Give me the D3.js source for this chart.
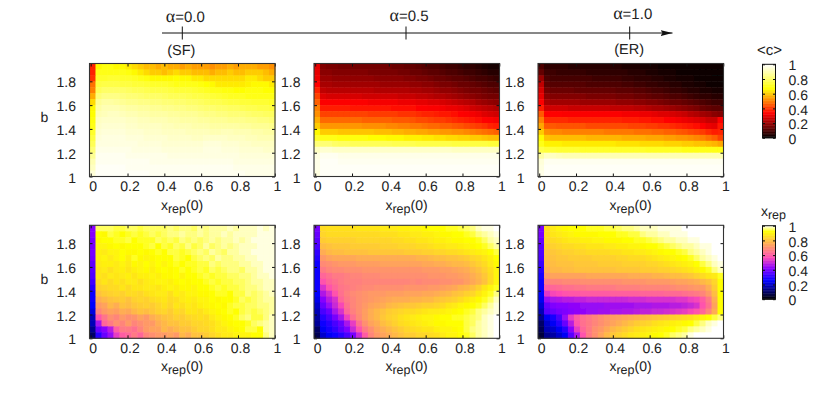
<!DOCTYPE html>
<html>
<head>
<meta charset="utf-8">
<style>
  body { margin: 0; background: #fff; }
  text { font-family: "Liberation Sans", Helvetica, Arial, sans-serif; fill: #222; text-rendering: geometricPrecision; }
</style>
<script src="https://cdnjs.cloudflare.com/ajax/libs/d3/7.8.5/d3.min.js"></script>
</head>
<body>
<svg width="814" height="417"></svg>
<script>
var xTicks = [0, 0.2, 0.4, 0.6, 0.8, 1];
var bTicks = [1, 1.2, 1.4, 1.6, 1.8];
var barTicks = [0, 0.2, 0.4, 0.6, 0.8, 1];
var alphaLabels = ["0.0", "0.5", "1.0"];
var alphaValues = [0, 0.5, 1];
var alphaNotes = ["(SF)", "", "(ER)"];

// values in hundredths, rows run from b=1.95 (top) down to b=1, columns from x=0 to x=1
var cAlpha0 = [
[38,66,68,68,66,66,64,62,60,58,58,56,58,56,56,54,56,54,54,54,52,54,54,56,54,56,56,56,54,54,52],
[38,70,70,70,70,70,68,66,64,62,60,60,58,60,62,60,60,58,58,58,56,58,58,60,58,58,60,60,60,58,56],
[40,72,72,73,73,72,72,71,70,68,66,66,66,66,67,66,66,64,64,62,62,62,62,62,62,62,64,64,62,60,60],
[48,75,76,76,76,75,75,74,74,73,72,72,72,71,70,70,70,69,68,67,66,64,64,64,64,64,65,66,66,66,64],
[50,78,80,80,80,80,79,78,78,77,76,76,76,75,74,74,74,73,72,71,70,69,68,68,67,67,68,68,68,67,67],
[56,82,84,84,84,83,82,82,81,80,80,80,79,78,78,78,77,76,76,75,74,73,72,71,71,71,70,70,70,70,70],
[62,86,88,88,87,86,85,85,84,84,83,83,82,82,81,81,80,80,79,78,77,77,76,75,75,74,74,73,73,73,72],
[66,88,90,90,90,89,88,88,87,87,86,86,85,85,84,84,83,83,82,81,81,80,80,79,79,78,77,77,76,76,75],
[67,90,91,92,92,91,90,90,89,89,88,88,88,87,87,86,86,86,85,84,84,83,83,82,82,82,81,80,80,79,79],
[68,92,93,93,93,93,92,92,91,91,90,90,90,89,89,88,88,88,87,87,86,86,86,85,85,85,84,84,83,83,82],
[69,93,94,94,94,94,93,93,92,92,92,92,91,91,90,90,90,89,89,89,88,88,88,88,88,87,87,86,86,86,85],
[72,94,95,95,95,95,94,94,94,93,93,93,92,92,92,92,91,91,91,91,90,90,91,91,90,90,90,89,89,88,88],
[75,95,96,96,96,96,95,95,95,94,94,94,94,93,93,93,93,92,92,93,93,93,93,92,92,92,91,91,90,90,90],
[78,96,96,96,96,96,96,96,95,95,95,95,94,94,94,94,94,94,94,95,95,95,94,94,94,93,93,92,92,92,92],
[82,97,97,97,97,97,97,96,96,96,96,96,95,95,95,95,95,95,95,96,96,96,95,95,95,94,94,94,94,93,93],
[86,98,98,98,98,98,97,97,97,97,97,97,97,96,96,96,96,96,96,96,96,96,96,96,96,95,95,95,95,95,95],
[90,98,98,98,98,98,98,98,98,98,97,97,97,97,97,97,97,97,97,97,97,97,97,97,96,96,96,96,96,96,96],
[92,99,99,99,99,99,98,98,98,98,98,98,98,98,98,98,98,98,98,98,98,98,98,98,97,97,97,97,97,97,97],
[95,99,99,99,99,99,99,99,99,99,98,98,98,98,98,98,98,98,98,98,98,98,98,98,98,98,97,97,97,97,97]
];
var cAlpha5 = [
[30,17,16,16,15,15,15,15,15,15,15,15,15,14,14,13,13,12,11,10,10,9,8,8,7,6,6,5,4,3,3],
[30,18,18,17,17,17,17,17,17,16,16,16,16,16,15,15,14,14,13,12,12,11,10,10,9,8,8,7,6,5,5],
[31,20,20,19,19,19,19,19,19,19,18,18,18,18,18,17,17,16,16,15,14,14,13,12,12,11,10,9,9,8,7],
[34,22,22,21,21,21,21,21,21,21,21,20,20,20,20,20,19,19,18,18,17,16,16,15,14,14,13,12,11,10,10],
[38,25,24,24,24,24,24,24,24,24,23,23,23,23,23,23,22,22,21,21,20,19,19,18,17,16,15,15,14,13,12],
[42,29,28,28,28,28,28,28,27,27,27,27,27,27,26,26,26,25,25,24,23,23,22,21,20,19,18,17,16,15,15],
[46,33,33,33,33,33,33,33,33,32,32,32,32,32,31,31,31,30,30,29,29,28,27,26,25,24,23,21,20,19,18],
[50,37,37,37,37,37,36,36,36,36,36,36,36,35,35,35,35,34,34,33,33,32,31,31,30,29,27,26,25,24,23],
[52,42,42,42,42,42,42,42,42,41,41,41,41,41,40,40,40,39,38,38,37,36,36,35,34,33,32,31,29,28,27],
[56,47,47,47,47,47,47,47,46,46,46,46,46,45,45,45,44,43,43,42,41,41,40,39,38,37,36,35,34,33,32],
[60,53,53,53,53,53,53,53,52,52,52,52,51,51,50,50,49,49,48,47,47,46,46,45,44,43,42,41,40,38,37],
[66,60,60,60,59,59,59,59,59,59,58,58,58,57,57,56,56,55,55,54,54,53,53,52,52,51,50,49,48,47,46],
[72,70,70,69,68,68,68,68,68,67,67,67,66,66,66,65,65,65,64,64,63,63,62,62,61,61,60,60,59,58,58],
[82,82,82,80,79,79,78,78,78,78,78,78,78,77,77,77,77,76,76,76,76,76,76,75,75,75,75,75,75,74,74],
[92,94,94,93,93,93,93,93,93,93,93,93,93,93,93,93,93,93,93,93,93,93,93,92,92,92,92,92,92,92,92],
[96,98,98,98,97,97,97,97,97,97,97,97,97,97,97,97,97,97,97,97,97,97,97,97,97,97,97,97,97,97,97],
[97,99,99,99,98,98,98,98,98,98,98,98,98,98,98,98,98,98,98,98,98,98,98,98,98,98,98,98,98,98,98],
[97,99,99,99,99,99,99,99,99,99,99,99,99,99,99,99,99,99,99,99,99,99,99,99,99,99,99,99,99,99,99],
[96,99,99,99,99,99,99,99,99,99,99,99,99,99,99,99,99,99,99,99,99,99,99,99,99,99,99,99,99,99,99]
];
var cAlpha10 = [
[10,6,6,6,6,5,5,5,5,5,5,5,5,5,4,4,4,3,3,3,2,2,2,2,1,1,1,1,1,1,1],
[13,8,8,7,7,7,7,7,6,6,6,6,6,6,6,5,5,5,4,4,3,3,3,2,2,2,1,1,1,1,1],
[20,10,9,9,9,9,9,9,9,8,8,8,8,8,7,7,6,6,6,5,5,4,4,3,3,3,2,2,2,1,1],
[25,12,11,11,11,11,11,11,10,10,10,10,10,10,9,9,8,8,7,7,6,6,5,5,4,4,3,3,2,2,2],
[28,15,14,14,14,14,13,13,13,13,13,13,13,12,12,12,11,11,10,9,9,8,7,7,6,5,5,4,4,3,3],
[30,18,17,17,17,17,17,17,16,16,16,16,16,15,15,15,14,14,13,12,12,11,10,10,9,8,7,6,6,5,5],
[33,22,21,21,21,21,21,20,20,20,20,20,20,19,19,19,18,18,17,17,16,15,14,14,13,12,11,10,9,8,8],
[37,27,27,27,27,26,26,26,26,26,26,26,25,25,25,25,24,24,23,22,22,21,20,19,18,17,16,14,13,12,12],
[45,34,34,34,33,33,33,33,33,33,33,33,33,33,32,32,32,31,31,30,29,29,28,27,26,24,23,21,20,18,17],
[50,39,39,39,39,38,38,38,38,38,38,38,38,38,37,37,37,36,36,35,35,34,33,32,31,30,29,28,26,26,33],
[55,45,45,44,44,44,44,44,43,43,43,43,43,43,43,42,42,42,41,41,40,40,39,38,37,36,35,33,31,30,36],
[60,52,51,51,50,50,50,50,50,50,50,49,49,49,49,49,48,48,48,47,47,46,46,45,44,43,42,41,39,37,38],
[66,59,58,58,58,58,58,58,57,57,57,57,57,57,56,56,56,56,55,55,55,54,54,53,53,52,51,50,48,46,42],
[70,65,65,65,64,64,64,64,64,64,64,64,64,63,63,63,63,62,62,62,62,61,61,61,60,60,59,59,58,57,55],
[76,74,74,73,73,73,73,72,72,72,72,72,72,72,72,72,72,72,71,71,71,71,71,71,70,70,70,70,70,69,69],
[88,92,92,91,90,90,90,90,90,90,90,90,90,90,90,90,90,90,90,90,90,90,90,90,90,90,90,90,90,90,90],
[95,98,98,98,98,98,98,98,98,98,98,98,98,98,98,98,98,98,98,98,98,98,98,98,98,98,98,98,98,98,98],
[96,99,99,99,99,99,99,99,99,99,99,99,99,99,99,99,99,99,99,99,99,99,99,99,99,99,99,99,99,99,99],
[97,99,99,99,99,99,99,99,99,99,99,99,99,99,99,99,99,99,99,99,99,99,99,99,99,99,99,99,99,99,99]
];
var xAlpha0 = [
[42,95,95,95,94,94,95,95,94,95,95,95,95,96,95,96,96,95,97,96,97,97,97,98,97,98,98,98,99,98,99],
[42,92,91,94,93,92,93,94,93,94,95,94,95,96,96,97,96,96,97,96,97,97,98,97,98,98,98,98,99,99,99],
[40,91,92,92,93,93,94,92,93,93,93,95,94,95,94,96,95,96,95,96,97,96,97,97,98,97,98,99,99,99,99],
[40,90,90,91,92,91,92,92,92,93,94,92,94,93,95,94,96,94,95,97,95,96,97,96,97,98,98,98,99,99,99],
[40,89,88,90,90,92,91,91,92,91,92,93,92,94,94,93,94,95,96,95,97,96,95,97,97,98,98,99,99,99,99],
[39,89,90,88,90,92,89,93,91,90,91,92,92,92,94,93,92,94,95,96,95,97,96,96,97,97,98,98,99,99,99],
[37,88,89,89,88,90,88,91,90,92,90,92,90,92,93,92,93,93,94,94,96,95,96,96,96,97,97,98,98,99,99],
[36,87,88,86,88,89,87,89,90,91,89,91,92,91,92,93,92,93,94,93,95,94,95,96,96,95,97,97,98,99,99],
[35,87,86,88,87,88,89,87,89,89,90,89,91,91,92,90,92,92,93,94,93,94,94,95,95,96,96,97,98,98,99],
[33,85,87,85,87,86,88,88,86,88,89,90,90,89,91,92,91,92,92,93,94,93,94,94,95,95,96,97,97,98,98],
[30,83,84,85,85,87,85,87,87,88,88,87,89,90,89,91,91,90,92,92,93,94,93,94,94,95,96,96,97,98,98],
[27,80,82,83,84,83,85,85,84,86,87,88,88,86,89,88,90,90,91,91,92,93,93,92,94,94,96,95,96,97,98],
[26,76,78,80,81,82,80,83,84,83,85,86,87,85,86,88,89,88,90,90,92,91,92,92,93,95,94,95,96,97,97],
[25,72,74,78,76,80,79,81,82,83,82,84,86,84,87,86,88,87,89,90,91,92,91,93,94,94,95,95,96,96,97],
[22,68,72,74,73,76,75,78,80,79,81,83,84,82,85,84,87,87,86,88,90,91,92,93,92,94,95,94,95,96,97],
[18,58,65,70,68,72,70,71,74,72,76,78,80,81,83,82,84,85,86,85,88,90,91,92,93,95,96,94,94,96,98],
[18,46,62,66,70,68,72,68,70,72,72,76,78,80,80,82,82,84,84,85,86,88,90,91,92,92,93,95,96,97,98],
[14,38,42,48,60,66,66,64,68,72,74,74,78,76,78,80,80,82,84,84,86,88,88,90,91,92,94,94,92,97,98],
[10,30,38,44,54,60,62,66,62,68,70,72,72,74,72,78,76,80,80,82,84,86,88,88,90,90,90,92,92,96,98]
];
var xAlpha5 = [
[40,85,86,86,86,86,86,87,87,87,87,88,88,88,89,89,90,90,91,92,92,92,93,93,94,95,96,98,99,99,100],
[38,84,85,85,85,85,85,85,85,85,85,86,86,86,87,87,88,88,89,89,90,91,91,92,92,93,94,96,97,98,99],
[36,82,83,83,83,83,83,84,84,84,84,84,84,85,85,86,86,87,87,88,89,89,90,91,91,92,92,93,95,97,98],
[34,79,80,81,81,81,82,82,82,82,82,83,83,83,84,84,84,85,85,86,87,87,88,88,89,90,91,92,93,95,97],
[31,76,78,79,79,80,80,80,80,81,81,81,81,81,81,82,82,82,83,83,84,84,85,85,86,87,88,89,90,92,94],
[29,72,74,75,75,75,75,76,76,76,76,76,76,76,76,76,76,77,77,78,79,79,80,80,81,82,84,85,87,89,92],
[27,69,70,71,72,72,72,73,73,73,73,74,74,74,74,74,74,74,75,75,76,76,77,78,78,79,81,83,85,88,91],
[26,66,68,69,69,70,70,70,71,71,71,71,71,71,71,71,71,71,72,72,72,73,73,74,75,76,78,80,83,86,90],
[26,62,64,66,66,67,68,68,69,69,69,70,70,70,70,70,70,70,70,71,71,71,72,72,73,74,76,78,81,85,90],
[27,58,62,64,66,67,67,67,68,68,68,68,68,68,68,68,69,68,69,69,69,70,70,71,71,73,75,77,80,85,90],
[27,52,58,62,65,66,67,68,69,69,70,70,70,70,70,71,71,71,71,72,72,73,74,75,77,78,80,83,87,90,93],
[25,47,52,58,64,67,69,70,71,72,72,72,73,73,73,74,74,74,75,75,76,77,78,80,81,83,84,87,90,93,96],
[23,42,48,52,62,66,68,70,71,72,73,74,75,76,76,76,77,77,78,78,80,81,82,83,85,87,89,91,93,95,98],
[20,38,44,50,56,64,68,70,72,74,75,76,78,79,80,81,81,82,83,83,84,85,87,88,90,91,92,93,95,97,99],
[18,34,38,46,52,62,67,70,73,76,78,80,82,83,84,85,85,86,87,88,88,89,90,91,92,93,94,96,97,98,99],
[16,30,34,40,46,55,64,69,73,76,78,81,83,84,86,87,88,89,90,90,91,92,92,93,93,94,95,96,98,99,100],
[15,27,30,34,38,46,54,64,70,74,76,79,81,83,85,86,87,88,89,90,91,91,92,92,92,94,95,97,98,99,100],
[10,24,28,31,36,41,50,58,66,70,74,76,78,80,82,84,85,86,87,87,89,90,90,91,92,94,96,97,98,99,100],
[8,20,24,26,30,34,40,50,60,68,72,74,76,78,80,82,82,84,84,85,86,88,90,90,92,93,95,97,98,99,100]
];
var xAlpha10 = [
[40,86,88,90,91,92,92,92,93,93,93,94,94,95,96,96,97,98,98,98,99,99,99,99,100,100,100,100,100,100,100],
[40,85,87,88,89,90,91,91,91,91,92,92,92,93,93,94,94,96,97,97,98,98,99,99,99,100,100,100,100,100,100],
[38,84,85,86,87,88,88,89,89,90,90,91,91,91,92,92,93,93,94,95,96,97,97,98,98,99,99,100,100,100,100],
[36,82,83,84,85,85,86,86,87,87,87,88,88,89,89,90,90,91,92,92,93,94,95,96,97,97,98,99,99,100,100],
[35,80,81,82,83,83,84,84,85,85,85,85,86,86,87,87,88,88,89,90,91,92,92,93,94,96,97,98,99,100,100],
[34,79,80,81,81,82,82,82,82,83,83,83,83,84,84,85,85,85,86,87,88,89,90,91,92,93,95,97,98,99,100],
[32,78,79,80,80,80,81,81,81,81,82,82,82,82,83,83,83,83,84,84,85,86,87,88,89,90,92,94,96,98,99],
[30,76,78,78,79,79,80,80,80,80,80,80,80,81,81,81,81,82,82,82,83,83,84,85,86,87,89,91,93,96,98],
[28,72,74,74,74,74,74,74,75,75,75,75,75,75,75,76,76,76,76,77,77,78,79,79,80,81,83,85,87,88,93],
[27,66,68,68,69,69,69,70,70,70,70,70,70,70,71,71,71,71,72,72,72,72,73,74,74,75,76,78,80,84,92],
[26,60,62,63,64,64,65,65,66,66,66,66,66,67,67,67,67,68,68,68,68,68,69,70,70,71,72,72,76,82,92],
[25,53,56,57,58,59,59,60,60,60,60,60,61,61,61,61,61,62,62,62,62,63,63,63,64,65,66,68,72,79,92],
[24,44,46,47,48,48,49,49,50,50,50,50,50,50,50,51,51,51,52,52,52,52,52,53,53,55,56,60,66,76,92],
[21,38,41,42,42,43,43,44,44,44,44,45,45,45,45,45,46,46,46,47,47,47,48,48,49,50,52,58,64,74,92],
[18,36,38,40,41,42,43,43,44,44,45,45,46,46,47,47,48,49,49,50,50,51,52,53,54,56,58,62,68,76,92],
[14,24,28,34,44,54,60,64,66,68,70,72,73,74,75,76,77,78,79,80,81,82,83,84,85,86,88,90,92,94,96],
[10,20,24,30,38,48,58,64,66,68,70,72,74,76,78,80,82,83,84,86,87,88,89,90,91,92,94,96,98,99,100],
[8,18,20,24,30,42,54,62,66,70,72,75,78,80,82,84,86,87,88,89,90,91,92,93,94,96,97,98,99,100,100],
[6,14,16,20,24,36,46,58,66,70,74,78,81,83,85,87,88,89,90,91,92,93,95,96,97,99,100,100,100,100,100]
];

var svg = d3.select("svg");

// gnuplot rgbformulae 21,22,23
var hotR = d3.scaleLinear().domain([0, 1/3]).range([0, 255]).clamp(true),
    hotG = d3.scaleLinear().domain([1/3, 2/3]).range([0, 255]).clamp(true),
    hotB = d3.scaleLinear().domain([2/3, 1]).range([0, 255]).clamp(true);
function hot(v) { return d3.rgb(hotR(v), hotG(v), hotB(v)) + ""; }

// gnuplot rgbformulae 30,31,32
var cR = d3.scaleLinear().domain([0.25, 0.5703]).range([0, 255]).clamp(true),
    cG = d3.scaleLinear().domain([0.42, 0.92]).range([0, 255]).clamp(true),
    cB = d3.scaleLinear().domain([0, 0.25, 0.42, 0.92, 1]).range([0, 255, 255, 0, 255]).clamp(true);
function violet(v) { return d3.rgb(cR(v), cG(v), cB(v)) + ""; }

var lefts = [89.5, 314, 538],
    plotW = 185.5,
    tops = [63.5, 225.3],
    plotH = 113;

function panel(matrix, left, top, color, leftLabel) {
    var g = svg.append("g");
    var xBand = d3.scaleBand().domain(d3.range(matrix[0].length)).range([left, left + plotW]);
    var yBand = d3.scaleBand().domain(d3.range(matrix.length)).range([top, top + plotH]);
    var x = d3.scaleLinear().domain([0, 1]).range([left + 1.2, left + plotW - 0.2]);
    var y = d3.scaleLinear().domain([1, 1.95]).range([top + plotH, top]);

    g.append("g")
        .attr("filter", "url(#soft)")
      .selectAll("g")
      .data(matrix)
      .enter()
      .append("g")
      .selectAll("rect")
      .data(function(row, i){ return row.map(function(v, j){ return {v: v, i: i, j: j}; }); })
      .enter()
      .append("rect")
        .attr("x", function(d){ return xBand(d.j); })
        .attr("y", function(d){ return yBand(d.i); })
        .attr("width", xBand.bandwidth() + 0.5)
        .attr("height", yBand.bandwidth() + 0.5)
        .attr("fill", function(d){ return color(d.v / 100); });

    var bottom = g.append("g").attr("transform", "translate(0," + (top + plotH) + ")")
        .call(d3.axisBottom(x).tickValues(xTicks).tickFormat(d3.format("")).tickSizeInner(-3).tickSizeOuter(0).tickPadding(4.5));
    bottom.selectAll("text").attr("dx", 2);
    g.append("g").attr("transform", "translate(0," + top + ")")
        .call(d3.axisTop(x).tickValues(xTicks).tickFormat("").tickSizeInner(-3).tickSizeOuter(0));
    var leftAxis = g.append("g").attr("transform", "translate(" + left + ",0)")
        .call(d3.axisLeft(y).tickValues(bTicks).tickFormat(d3.format("")).tickSizeInner(-3).tickSizeOuter(0).tickPadding(13.5));
    leftAxis.selectAll("text").attr("dy", "0.4em");
    g.append("g").attr("transform", "translate(" + (left + plotW) + ",0)")
        .call(d3.axisRight(y).tickValues(bTicks).tickFormat("").tickSizeInner(-3).tickSizeOuter(0));

    g.selectAll(".domain").remove();
    g.selectAll(".tick line").attr("stroke", "#111").attr("stroke-width", 1);
    g.selectAll(".tick text").style("font-size", "14px").style("fill", "#222")
        .style("font-family", "'Liberation Sans', Helvetica, Arial, sans-serif");

    g.append("rect")
        .attr("x", left).attr("y", top)
        .attr("width", plotW).attr("height", plotH)
        .attr("fill", "none").attr("stroke", "#333").attr("stroke-width", 1.1);

    var label = g.append("text")
        .attr("x", left + 92.5)
        .attr("y", top + plotH + 33)
        .attr("text-anchor", "middle")
        .style("font-size", "14px");
    label.append("tspan").text("x");
    label.append("tspan").attr("dy", 3).style("font-size", "12.5px").text("rep");
    label.append("tspan").attr("dy", -3).text("(0)");

    if (leftLabel) {
        g.append("text")
            .attr("x", left - 45)
            .attr("y", top + plotH / 2 + 2)
            .attr("text-anchor", "middle")
            .style("font-size", "14px")
            .text("b");
    }
}

function colorbar(top, color) {
    var barLeft = 762.5, barW = 13, barH = 73.5;
    var y = d3.scaleLinear().domain([0, 1]).range([top + barH, top]);
    var g = svg.append("g");
    g.selectAll("rect")
        .data(d3.range(0, 1, 0.01))
        .enter()
        .append("rect")
          .attr("x", barLeft)
          .attr("y", function(d){ return y(d + 0.01); })
          .attr("width", barW)
          .attr("height", y(0) - y(0.01) + 0.4)
          .attr("fill", function(d){ return color(d); });
    g.append("g").attr("transform", "translate(" + barLeft + ",0)")
        .call(d3.axisLeft(y).tickValues(barTicks).tickFormat("").tickSizeInner(-2.5).tickSizeOuter(0));
    var right = g.append("g").attr("transform", "translate(" + (barLeft + barW) + ",0)")
        .call(d3.axisRight(y).tickValues(barTicks).tickFormat(d3.format("")).tickSizeInner(-2.5).tickSizeOuter(0).tickPadding(13));
    g.selectAll(".domain").remove();
    g.selectAll(".tick line").attr("stroke", "#111");
    right.selectAll("text").attr("dy", "0.4em").style("font-size", "14px").style("fill", "#222")
        .style("font-family", "'Liberation Sans', Helvetica, Arial, sans-serif");
    g.append("rect")
        .attr("x", barLeft).attr("y", top)
        .attr("width", barW).attr("height", barH)
        .attr("fill", "none").attr("stroke", "#111").attr("stroke-width", 1);
}

var defs = svg.append("defs");
defs.append("filter").attr("id", "soft")
    .attr("x", 0).attr("y", 0).attr("width", 1).attr("height", 1)
  .append("feGaussianBlur").attr("stdDeviation", 0.7);
var head = defs.append("marker").attr("id", "head")
    .attr("viewBox", "0 0 12 6").attr("refX", 12).attr("refY", 3)
    .attr("markerWidth", 12).attr("markerHeight", 6).attr("markerUnits", "userSpaceOnUse")
    .attr("orient", "auto");
head.append("path").attr("d", "M0,0L12,3L0,6L2,3Z").attr("fill", "#111");

panel(cAlpha0, lefts[0], tops[0], hot, true);
panel(cAlpha5, lefts[1], tops[0], hot, false);
panel(cAlpha10, lefts[2], tops[0], hot, false);
panel(xAlpha0, lefts[0], tops[1], violet, true);
panel(xAlpha5, lefts[1], tops[1], violet, false);
panel(xAlpha10, lefts[2], tops[1], violet, false);

colorbar(64.3, hot);
colorbar(225.7, violet);

svg.append("text").attr("x", 769.5).attr("y", 54.5).attr("text-anchor", "middle").style("font-size", "15px").text("<c>");
var xr = svg.append("text").attr("x", 773.5).attr("y", 216).attr("text-anchor", "middle").style("font-size", "14px");
xr.append("tspan").text("x");
xr.append("tspan").attr("dy", 3).style("font-size", "12.5px").text("rep");

// alpha axis on top
var alphaAxis = d3.scaleLinear().domain([0, 1]).range([182.3, 629.7]);
var aG = svg.append("g");
aG.append("line")
    .attr("x1", 162).attr("x2", 672.5)
    .attr("y1", 33).attr("y2", 33)
    .attr("stroke", "#111").attr("stroke-width", 1)
    .attr("marker-end", "url(#head)");
var aTick = aG.selectAll("g.a")
    .data(alphaValues)
    .enter()
    .append("g")
    .attr("class", "a")
    .attr("transform", function(d){ return "translate(" + alphaAxis(d) + ",0)"; });
aTick.append("line")
    .attr("y1", 26.5).attr("y2", 39.5)
    .attr("stroke", "#111");
var aText = aTick.append("text")
    .attr("x", 3)
    .attr("y", function(d, i){ return 22 - i * 1.3; })
    .attr("text-anchor", "middle")
    .style("font-size", "15px");
aText.append("tspan").style("font-family", "'Liberation Serif', serif").style("font-size", "18px").text("\u03b1");
aText.append("tspan").text(function(d, i){ return "=" + alphaLabels[i]; });
aTick.append("text")
    .attr("x", function(d, i){ return i == 0 ? -1 : -0.5; })
    .attr("y", function(d, i){ return i == 0 ? 55 : 53.5; })
    .attr("text-anchor", "middle")
    .style("font-size", "14.5px")
    .text(function(d, i){ return alphaNotes[i]; });
</script>
</body>
</html>
